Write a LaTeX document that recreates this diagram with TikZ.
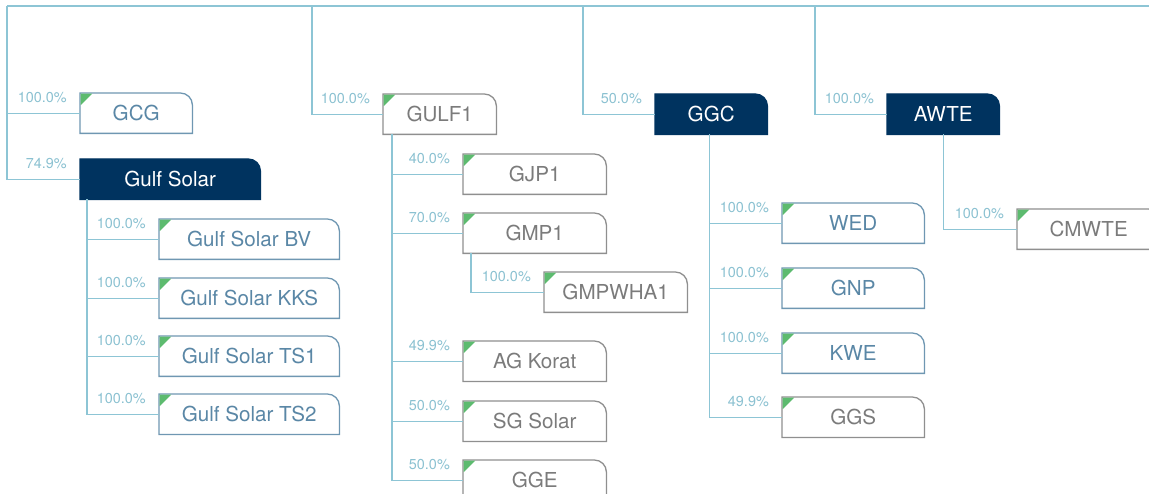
\documentclass[tikz,border=0pt]{standalone}
\usepackage{fontspec}
\setmainfont{TeX Gyre Heros}
\usetikzlibrary{backgrounds}
\definecolor{lineblue}{HTML}{8DC5D5}
\definecolor{pctblue}{HTML}{8BC1D1}
\definecolor{bluebd}{HTML}{6F97B2}
\definecolor{bluetx}{HTML}{5A87A6}
\definecolor{greybd}{HTML}{8F8F8F}
\definecolor{greytx}{HTML}{7B7B7B}
\definecolor{navy}{HTML}{00335F}
\definecolor{trigreen}{HTML}{5DBB6F}
\tikzset{
  ent/.style={anchor=north west, inner sep=0pt, minimum height=40pt, font=\fontsize{20.6}{24}\selectfont},
  bluebox/.style={ent, text=bluetx},
  greybox/.style={ent, text=greytx},
  navybox/.style={ent, text=white},
  conn/.style={draw=lineblue, line width=1.3pt},
  pct/.style={anchor=base east, text=pctblue, font=\fontsize{14.4}{16}\selectfont, inner sep=0pt},
}
\newcommand\boxoutline[3]{%
  \path[draw=#2, fill=#3, line width=1.3pt] (#1.south west) -- (#1.north west) -- ([xshift=-12pt]#1.north east) to[out=0,in=90] ([yshift=-12pt]#1.north east) -- (#1.south east) -- cycle;}
\newcommand\greentri[1]{%
  \fill[trigreen] ([shift={(0.65pt,-0.65pt)}]#1.north west) -- ++(11.5pt,0) -- ++(-11.5pt,-11.5pt) -- cycle;}
\newcommand\pctlabel[2]{%
  \node[pct] (p#1) at ([xshift=-13pt,yshift=11pt]#1.west) {#2};}
\begin{document}
\begin{tikzpicture}[x=1pt,y=-1pt]
\useasboundingbox (0,0) rectangle (1149,494);
\clip (0,0) rectangle (1149,494);
% top level
\node[bluebox, minimum width=112pt] (gcg) at (80,93) {GCG};
\node[navybox, minimum width=180pt] (gs) at (80,159) {Gulf Solar};
\node[greybox, minimum width=113pt] (gulf1) at (383,94) {GULF1};
\node[navybox, minimum width=112pt] (ggc) at (655,94) {GGC};
\node[navybox, minimum width=112pt] (awte) at (887,94) {AWTE};
% Gulf Solar children
\node[bluebox, minimum width=180pt] (gsbv) at (159,219) {Gulf Solar BV};
\node[bluebox, minimum width=180pt] (gskks) at (159,278) {Gulf Solar KKS};
\node[bluebox, minimum width=180pt] (gsts1) at (159,336) {Gulf Solar TS1};
\node[bluebox, minimum width=180pt] (gsts2) at (159,394) {Gulf Solar TS2};
% GULF1 children
\node[greybox, minimum width=143pt] (gjp1) at (463,154) {GJP1};
\node[greybox, minimum width=143pt] (gmp1) at (463,213) {GMP1};
\node[greybox, minimum width=143pt] (gmpwha1) at (544,272) {GMPWHA1};
\node[greybox, minimum width=143pt] (agk) at (463,341) {AG Korat};
\node[greybox, minimum width=143pt] (sgs) at (463,401) {SG Solar};
\node[greybox, minimum width=143pt] (gge) at (463,460) {GGE};
% GGC children
\node[bluebox, minimum width=142pt] (wed) at (782,203) {WED};
\node[bluebox, minimum width=142pt] (gnp) at (782,268) {GNP};
\node[bluebox, minimum width=142pt] (kwe) at (782,333) {KWE};
\node[greybox, minimum width=142pt] (ggs) at (782,397) {GGS};
% AWTE child
\node[greybox, minimum width=143pt] (cmwte) at (1017,209) {CMWTE};
% outlines
\begin{pgfonlayer}{background}
  \foreach \n in {gcg,gsbv,gskks,gsts1,gsts2,wed,gnp,kwe}{\boxoutline{\n}{bluebd}{white}\greentri{\n}}
  \foreach \n in {gulf1,gjp1,gmp1,gmpwha1,agk,sgs,gge,ggs,cmwte}{\boxoutline{\n}{greybd}{white}\greentri{\n}}
  \foreach \n in {gs,ggc,awte}{\boxoutline{\n}{navy}{navy}}
\end{pgfonlayer}
% connectors
\coordinate (t0) at (7,6);
\coordinate (t1) at (312,6);
\coordinate (t2) at (583,6);
\coordinate (t3) at (815,6);
\coordinate (tend) at (1160,6);
\draw[conn] (t0) -- (tend);
\draw[conn] (t0) |- (gcg.west);
\draw[conn] (t0) |- (gs.west);
\draw[conn] (t1) |- (gulf1.west);
\draw[conn] (t2) |- (ggc.west);
\draw[conn] (t3) |- (awte.west);
\foreach \c in {gsbv,gskks,gsts1,gsts2}{\draw[conn] ([xshift=7pt]gs.south west) |- (\c.west);}
\foreach \c in {gjp1,gmp1,agk,sgs,gge}{\draw[conn] ([xshift=9pt]gulf1.south west) |- (\c.west);}
\draw[conn] ([xshift=8pt]gmp1.south west) |- (gmpwha1.west);
\foreach \c in {wed,gnp,kwe,ggs}{\draw[conn] ([xshift=-2pt]ggc.south) |- (\c.west);}
\draw[conn] (awte.south) |- (cmwte.west);
% percentages
\pctlabel{gcg}{100.0\%}
\pctlabel{gs}{74.9\%}
\pctlabel{gulf1}{100.0\%}
\pctlabel{ggc}{50.0\%}
\pctlabel{awte}{100.0\%}
\pctlabel{gsbv}{100.0\%}
\pctlabel{gskks}{100.0\%}
\pctlabel{gsts1}{100.0\%}
\pctlabel{gsts2}{100.0\%}
\pctlabel{gjp1}{40.0\%}
\pctlabel{gmp1}{70.0\%}
\pctlabel{gmpwha1}{100.0\%}
\pctlabel{agk}{49.9\%}
\pctlabel{sgs}{50.0\%}
\pctlabel{gge}{50.0\%}
\pctlabel{wed}{100.0\%}
\pctlabel{gnp}{100.0\%}
\pctlabel{kwe}{100.0\%}
\pctlabel{ggs}{49.9\%}
\pctlabel{cmwte}{100.0\%}
\end{tikzpicture}
\end{document}
